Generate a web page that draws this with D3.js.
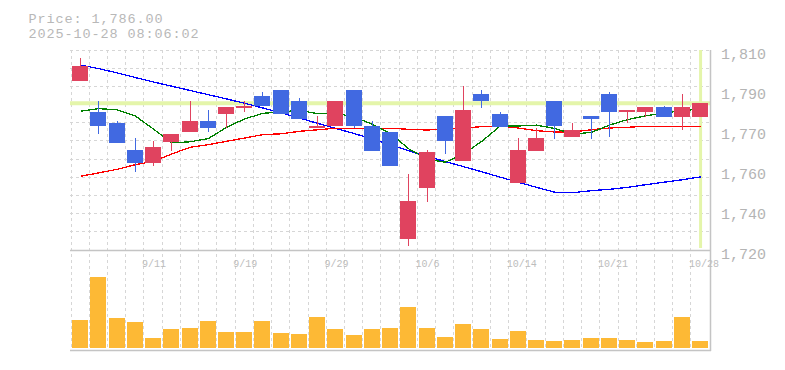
<!DOCTYPE html>
<html><head><meta charset="utf-8">
<script src="https://cdn.jsdelivr.net/npm/d3@7/dist/d3.min.js"></script>
<style>
html,body{margin:0;padding:0;background:#fff;}
svg{display:block;}
text{font-family:"Liberation Mono","DejaVu Sans Mono",monospace;}
</style></head>
<body><svg id="c" width="785" height="370"></svg>
<script>
const dates = ["9/5","9/8","9/9","9/10","9/11","9/12","9/16","9/17","9/18","9/19","9/22","9/24","9/25","9/26","9/29","9/30","10/1","10/2","10/3","10/6","10/7","10/8","10/9","10/10","10/14","10/15","10/16","10/17","10/20","10/21","10/22","10/23","10/24","10/27","10/28"];
const opens  = [1796,1782,1777,1765,1759,1768.5,1773,1778,1781,1784,1789.5,1792,1787,1775,1776,1792,1776,1773,1725,1748,1780.5,1760,1790,1781,1750,1764.5,1787,1771,1780.5,1790,1782,1782,1784.5,1780,1780];
const highs  = [1806.5,1787,1778,1770.5,1769,1772,1787,1783,1784.5,1787,1791,1792,1788.5,1780.5,1787,1792,1778,1773,1754,1765,1780.5,1794,1792,1782,1770.5,1775,1787,1777,1780.5,1791,1783,1784.5,1785,1790,1786];
const lows   = [1796,1772,1768,1755,1758,1764.5,1773,1773,1775,1782,1785,1781,1779,1775,1776,1775,1764.5,1758,1722,1741.5,1763,1760,1784,1775.5,1750,1764.5,1770,1771,1770,1771,1777,1780,1780,1774,1780];
const closes = [1803,1776,1768,1759,1766.5,1772,1778,1775,1784.5,1785,1785,1781,1779,1776,1787,1776,1764.5,1758,1742,1764,1769,1783,1787,1775.5,1765,1770.5,1776,1774,1779,1782,1783,1784.5,1780,1784.5,1786];
const maShort = [1782.5,1783.6,1783.1,1780.3,1774.4,1768.2,1768.7,1770.1,1775.2,1779.0,1781.5,1782.1,1782.9,1781.3,1781.6,1779.8,1776.6,1772.4,1765.5,1760.9,1759.5,1763.2,1768.9,1775.7,1775.8,1776.2,1774.7,1772.2,1772.9,1776.2,1778.7,1780.4,1781.7,1782.7,1783.5];
const maMid = [1753.2,1754.7,1756.3,1758.4,1759.9,1763.2,1766.2,1767.4,1768.9,1770.4,1771.9,1772.3,1773.4,1774.1,1774.8,1774.8,1774.8,1774.8,1774.3,1774.0,1774.4,1774.9,1775.5,1775.8,1774.9,1773.7,1773.1,1773.1,1774.1,1774.9,1775.2,1775.7,1775.7,1775.7,1775.7];
const maLong = [1803.2,1801.6,1799.7,1797.6,1795.6,1793.7,1791.8,1789.9,1788.0,1786.0,1783.9,1781.7,1779.4,1777.0,1774.7,1772.4,1770.0,1767.3,1764.6,1762.2,1759.8,1757.5,1755.2,1752.8,1750.5,1748.2,1746.0,1745.8,1746.7,1747.3,1748.2,1749.4,1750.5,1751.6,1752.9];
const volumes = [2800,7100,3000,2600,1000,1900,2000,2700,1600,1600,2700,1500,1400,3100,1900,1300,1900,2000,4100,2000,1100,2400,1900,900,1700,800,700,800,1000,1000,800,600,700,3100,700];
const xTickLabels = ["9/11","9/19","9/29","10/6","10/14","10/21","10/28"];
const yTickValues = [1720,1738,1756,1774,1792,1810];
const yTickLabels = ["1,720","1,740","1,760","1,770","1,790","1,810"];
const lastPrice = 1786;
const titleLines = ["Price: 1,786.00","2025-10-28 08:06:02"];

const svg = d3.select("#c");
const L = 71, R = 709.2, T = 50, B = 250, VB = 348, VT = 250, VBottom = 350;
const x = d3.scaleBand().domain(dates).range([L, R]).paddingInner(0.1226).paddingOuter(0.0613);
const y = d3.scaleLinear().domain([1720, 1810]).range([B, T]);
const yv = d3.scaleLinear().domain([0, 9800]).range([VB, VT]);
const step = x.step();
const cx = d => x(d) + x.bandwidth() / 2;
const gridC = "#d6d6d6";

// grid
const g = svg.append("g").attr("shape-rendering", "crispEdges");
const hDiv = 11;
g.selectAll("line.h").data(d3.range(hDiv)).join("line")
  .attr("x1", L - 1).attr("x2", 710).attr("y1", k => T + k * (B - T) / hDiv).attr("y2", k => T + k * (B - T) / hDiv)
  .attr("stroke", gridC).attr("stroke-dasharray", "3,3");
g.selectAll("line.v").data(dates).join("line")
  .attr("x1", d => x(d) - step * x.paddingInner() / 2).attr("x2", d => x(d) - step * x.paddingInner() / 2)
  .attr("y1", T).attr("y2", VBottom)
  .attr("stroke", gridC).attr("stroke-dasharray", "3,3");

// highlight lines
const hl = "#e4f5aa";
svg.append("line").attr("x1", L - 1).attr("x2", 710).attr("y1", y(lastPrice)).attr("y2", y(lastPrice))
  .attr("stroke", hl).attr("stroke-width", 4);
svg.append("line").attr("x1", cx(dates[dates.length - 1]) + 0.5).attr("x2", cx(dates[dates.length - 1]) + 0.5)
  .attr("y1", T).attr("y2", B - 2).attr("stroke", hl).attr("stroke-width", 3);

// borders
const bc = "#c4c4c4";
svg.append("line").attr("x1", 710.5).attr("x2", 710.5).attr("y1", T).attr("y2", VBottom + 1).attr("stroke", bc).attr("stroke-width", 1.5);
svg.append("line").attr("x1", L - 1).attr("x2", 711).attr("y1", B + 0.5).attr("y2", B + 0.5).attr("stroke", bc).attr("stroke-width", 1.5);
svg.append("line").attr("x1", L - 1).attr("x2", 711).attr("y1", VBottom + 0.5).attr("y2", VBottom + 0.5).attr("stroke", bc).attr("stroke-width", 1.5);

// moving averages
const lineGen = arr => d3.line().x((v, i) => cx(dates[i]) + 0.5).y(v => y(v))(arr);
[[maLong, "#0000ff"], [maMid, "#ff0000"], [maShort, "#008000"]].forEach(([arr, col]) => {
  svg.append("path").attr("d", lineGen(arr)).attr("fill", "none").attr("stroke", col)
    .attr("stroke-width", 1.3).attr("shape-rendering", "crispEdges");
});

// candles
const upC = "#e0435f", dnC = "#4169e1";
const cg = svg.append("g").attr("shape-rendering", "crispEdges");
const idx = d3.range(dates.length);
cg.selectAll("line.w").data(idx).join("line")
  .attr("x1", i => cx(dates[i]) + 0.5).attr("x2", i => cx(dates[i]) + 0.5)
  .attr("y1", i => y(highs[i])).attr("y2", i => y(lows[i]))
  .attr("stroke", i => closes[i] >= opens[i] ? upC : dnC).attr("stroke-width", 1);
cg.selectAll("rect.b").data(idx).join("rect")
  .attr("x", i => x(dates[i])).attr("width", x.bandwidth())
  .attr("y", i => y(Math.max(opens[i], closes[i])))
  .attr("height", i => Math.max(1, Math.abs(y(opens[i]) - y(closes[i]))))
  .attr("fill", i => closes[i] >= opens[i] ? upC : dnC);

// volume
cg.selectAll("rect.v").data(idx).join("rect")
  .attr("x", i => x(dates[i])).attr("width", x.bandwidth())
  .attr("y", i => yv(volumes[i])).attr("height", i => yv(0) - yv(volumes[i]))
  .attr("fill", "#fdb935");

// y axis labels
const ya = d3.axisRight(y).tickValues(yTickValues).tickSize(0).tickPadding(11)
  .tickFormat((v, i) => yTickLabels[i]);
const yg = svg.append("g").attr("transform", "translate(710,0)").call(ya);
yg.select(".domain").remove();
yg.selectAll("text").attr("font-size", 15).attr("fill", "#b4b4b4").attr("dy", "0.55em")
  .attr("font-family", "Liberation Mono, monospace");

// x labels
svg.selectAll("text.xl").data(xTickLabels).join("text")
  .attr("x", d => x(d) - 3).attr("y", 266.5)
  .attr("font-size", 10).attr("fill", "#bdbdbd").text(d => d);

// title
svg.selectAll("text.tt").data(titleLines).join("text")
  .attr("x", 28.5).attr("y", (d, i) => 22.5 + i * 15.5)
  .attr("font-size", 13.5).attr("letter-spacing", "0.9px").attr("fill", "#b8b8b8").text(d => d);
</script></body></html>
